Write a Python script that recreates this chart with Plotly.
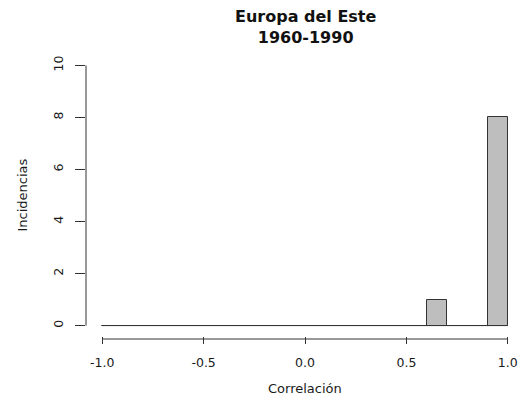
import plotly.graph_objects as go

bin_starts = [-1.0, -0.9, -0.8, -0.7, -0.6, -0.5, -0.4, -0.3, -0.2, -0.1,
              0.0, 0.1, 0.2, 0.3, 0.4, 0.5, 0.6, 0.7, 0.8, 0.9]
counts = [0, 0, 0, 0, 0, 0, 0, 0, 0, 0,
          0, 0, 0, 0, 0, 0, 1, 0, 0, 8]
bin_width = 0.1
x_ticks = [-1.0, -0.5, 0.0, 0.5, 1.0]
x_tick_labels = ["-1.0", "-0.5", "0.0", "0.5", "1.0"]
y_ticks = [0, 2, 4, 6, 8, 10]
y_tick_labels = ["0", "2", "4", "6", "8", "10"]
title_lines = ["Europa del Este", "1960-1990"]
x_title = "Correlación"
y_title = "Incidencias"

centers = [s + bin_width / 2 for s in bin_starts]
edges = bin_starts + [bin_starts[-1] + bin_width]

font = "DejaVu Sans, Liberation Sans, Arial, sans-serif"
axcol = "#333333"
txtcol = "#1a1a1a"

W, H = 532, 400
ml, mr, mt, mb = 86, 8, 55, 64
pw, ph = W - ml - mr, H - mt - mb

fig = go.Figure()
fig.add_trace(go.Bar(
    x=centers, y=counts, width=[bin_width] * len(counts),
    marker=dict(color="#BEBEBE", line=dict(color="#333333", width=1)),
    showlegend=False, hoverinfo="skip",
))
# zero-height bins appear as a flat line at 0 (as R draws them)
fig.add_trace(go.Scatter(
    x=[edges[0], edges[-1]], y=[0, 0], mode="lines",
    line=dict(color="#333333", width=1), showlegend=False, hoverinfo="skip",
))

xr = [-1.08, 1.08]
yr = [-0.4, 10.4]

fig.update_layout(
    width=W, height=H,
    margin=dict(l=ml, r=mr, t=mt, b=mb, autoexpand=False),
    paper_bgcolor="white", plot_bgcolor="white",
    font=dict(family=font, size=12, color=txtcol),
    bargap=0,
    xaxis=dict(range=xr, tickvals=x_ticks, ticktext=x_tick_labels,
               showgrid=False, zeroline=False, showline=False,
               ticks="outside", ticklen=7, tickcolor=axcol, tickwidth=1,
               ticklabelstandoff=8, automargin=False,
               tickfont=dict(size=12.5, color=txtcol, family=font)),
    yaxis=dict(range=yr, tickvals=y_ticks, ticktext=y_tick_labels,
               showgrid=False, zeroline=False, showline=False,
               ticks="outside", ticklen=10, tickcolor=axcol, tickwidth=1,
               tickangle=-90, ticklabelstandoff=7, automargin=False,
               tickfont=dict(size=12.5, color=txtcol, family=font)),
)

# axis lines spanning only the tick range, as in R
fig.add_shape(type="line", xref="x", yref="paper",
              x0=x_ticks[0], x1=x_ticks[-1], y0=-3 / ph, y1=-3 / ph,
              line=dict(color=axcol, width=1))
fig.add_shape(type="line", xref="paper", yref="y",
              x0=0, x1=0, y0=y_ticks[0], y1=y_ticks[-1],
              line=dict(color=axcol, width=1))

# title (two lines, one text)
fig.add_annotation(text="<b>" + "<br>".join(title_lines) + "</b>",
                   xref="paper", yref="paper",
                   x=0.5, y=1 + (mt - 27.5) / ph, xanchor="center",
                   yanchor="middle", showarrow=False,
                   font=dict(size=16, family=font, color="#111111"))

# axis titles
fig.add_annotation(text=x_title, xref="paper", yref="paper",
                   x=0.5, y=-(388 - (H - mb)) / ph, xanchor="center",
                   yanchor="middle", showarrow=False,
                   font=dict(size=13, family=font, color=txtcol))
fig.add_annotation(text=y_title, xref="paper", yref="paper",
                   x=(22 - ml) / pw, y=0.5, xanchor="center",
                   yanchor="middle", showarrow=False, textangle=-90,
                   font=dict(size=13, family=font, color=txtcol))

fig.write_html("out.html",
               config={"displayModeBar": False},
               post_script="document.body.style.margin='0px';document.body.style.padding='0px';")
